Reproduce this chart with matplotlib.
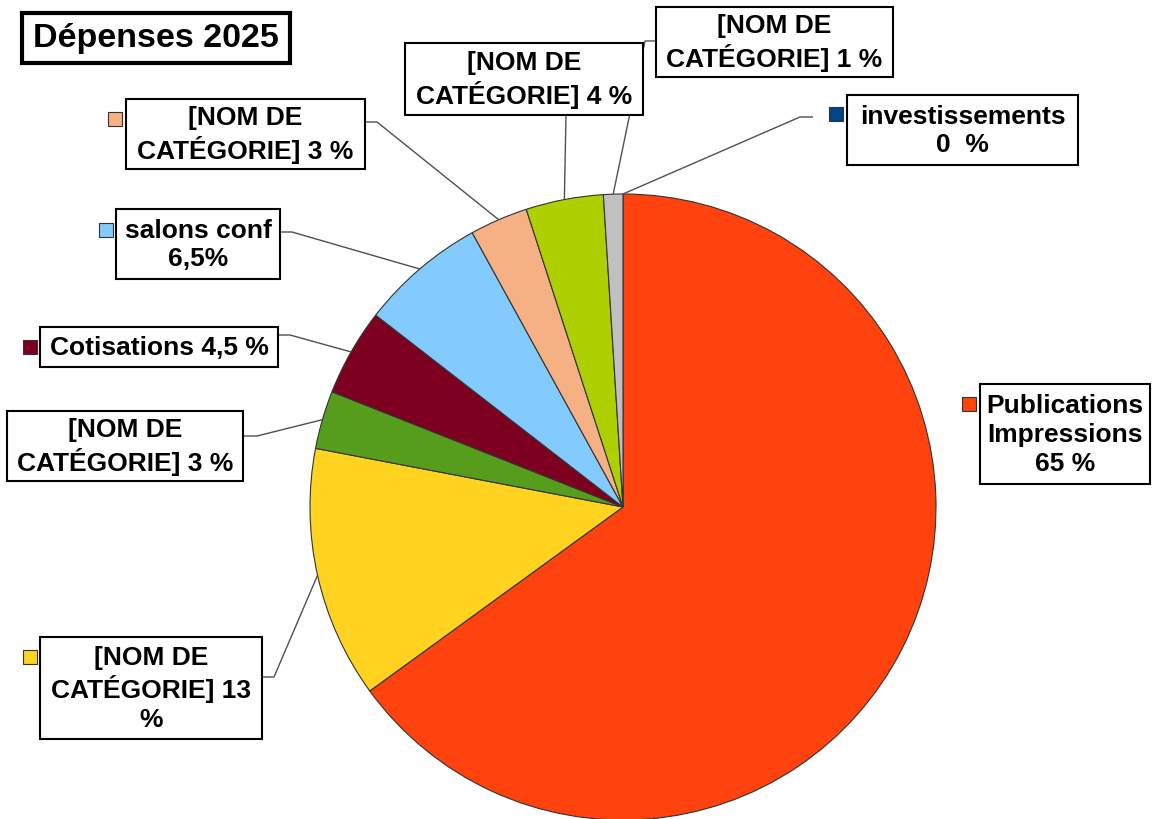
import matplotlib
matplotlib.use("Agg")
import matplotlib.pyplot as plt
from matplotlib.patches import Rectangle
import numpy as np

W, H = 1158, 820

# ---- data ----
title = "Dépenses 2025"
categories = ["investissements", "Publications Impressions", "[NOM DE CATÉGORIE] 13",
              "[NOM DE CATÉGORIE] 3 (vert)", "Cotisations", "salons conf",
              "[NOM DE CATÉGORIE] 3", "[NOM DE CATÉGORIE] 4", "[NOM DE CATÉGORIE] 1"]
values = [0, 65, 13, 3, 4.5, 6.5, 3, 4, 1]
label_texts = ["investissements\n0  %", "Publications\nImpressions\n65 %",
               "[NOM DE\nCATÉGORIE] 13\n%", "[NOM DE\nCATÉGORIE] 3 %",
               "Cotisations 4,5 %", "salons conf\n6,5%", "[NOM DE\nCATÉGORIE] 3 %",
               "[NOM DE\nCATÉGORIE] 4 %", "[NOM DE\nCATÉGORIE] 1 %"]
colors = ["#004586", "#FF420E", "#FFD320", "#579D1C", "#7E0021", "#83CAFF",
          "#F5B183", "#AECF00", "#C0C0C0"]

# ---- layout (pixel coordinates, origin top-left) ----
pie_center = (623, 508)
pie_radius = 313
boxes = [(847, 96, 1078, 166), (980, 385, 1150, 485), (40, 638, 262, 740),
         (7, 412, 243, 482), (40, 328, 278, 368), (116, 210, 280, 280),
         (126, 100, 365, 170), (405, 44, 643, 116), (656, 8, 893, 78)]
markers = [(829, 108), (962, 398), (23, 651), None, (23, 341), (99, 224),
           (108, 113), None, None]
leaders = [[(813, 118), (800, 118)], None, [(262, 678), (274, 678)],
           [(243, 437), (257, 437)], [(278, 336), (290, 336)],
           [(280, 233), (292, 233)], [(365, 123), (377, 123)],
           [(566, 116)], [(656, 42), (645, 42)]]

FONT = "Liberation Sans"

def Y(y):
    return H - y

fig = plt.figure(figsize=(W / 100, H / 100), dpi=100)
ax = fig.add_axes([0, 0, 1, 1])

wedges, _ = ax.pie(values, colors=colors, startangle=90, counterclock=False,
                   center=(pie_center[0], Y(pie_center[1])), radius=pie_radius,
                   wedgeprops=dict(edgecolor="#333333", linewidth=0.8),
                   normalize=True)

ax.set_xlim(0, W)
ax.set_ylim(0, H)
ax.set_aspect("auto")
ax.axis("off")

for i, w in enumerate(wedges):
    # leader line
    if leaders[i] is not None:
        mid = np.deg2rad((w.theta1 + w.theta2) / 2)
        ax_pt = (w.center[0] + w.r * np.cos(mid), w.center[1] + w.r * np.sin(mid))
        xs = [p[0] for p in leaders[i]] + [ax_pt[0]]
        ys = [Y(p[1]) for p in leaders[i]] + [ax_pt[1]]
        ax.plot(xs, ys, color="#505050", lw=1.0, zorder=3, solid_capstyle="butt")
    # box
    x0, y0, x1, y1 = boxes[i]
    ax.add_patch(Rectangle((x0, Y(y1)), x1 - x0, y1 - y0, facecolor="white",
                           edgecolor="black", lw=1.5, zorder=4))
    ax.text((x0 + x1) / 2, Y((y0 + y1) / 2), label_texts[i], ha="center",
            va="center", multialignment="center", fontsize=19,
            fontweight="bold", family=FONT, linespacing=1.24, zorder=5)
    # legend key
    if markers[i] is not None:
        mx, my = markers[i]
        ax.add_patch(Rectangle((mx, Y(my + 14)), 14, 14, facecolor=colors[i],
                               edgecolor="#333333", lw=0.8, zorder=4))

# title
ax.add_patch(Rectangle((22, Y(64)), 268, 50, facecolor="white", edgecolor="black",
                       lw=3, zorder=4))
ax.text(156, Y(39), title, ha="center", va="center", fontsize=24.5,
        fontweight="bold", family=FONT, zorder=5)

fig.savefig("out.png", dpi=100)
